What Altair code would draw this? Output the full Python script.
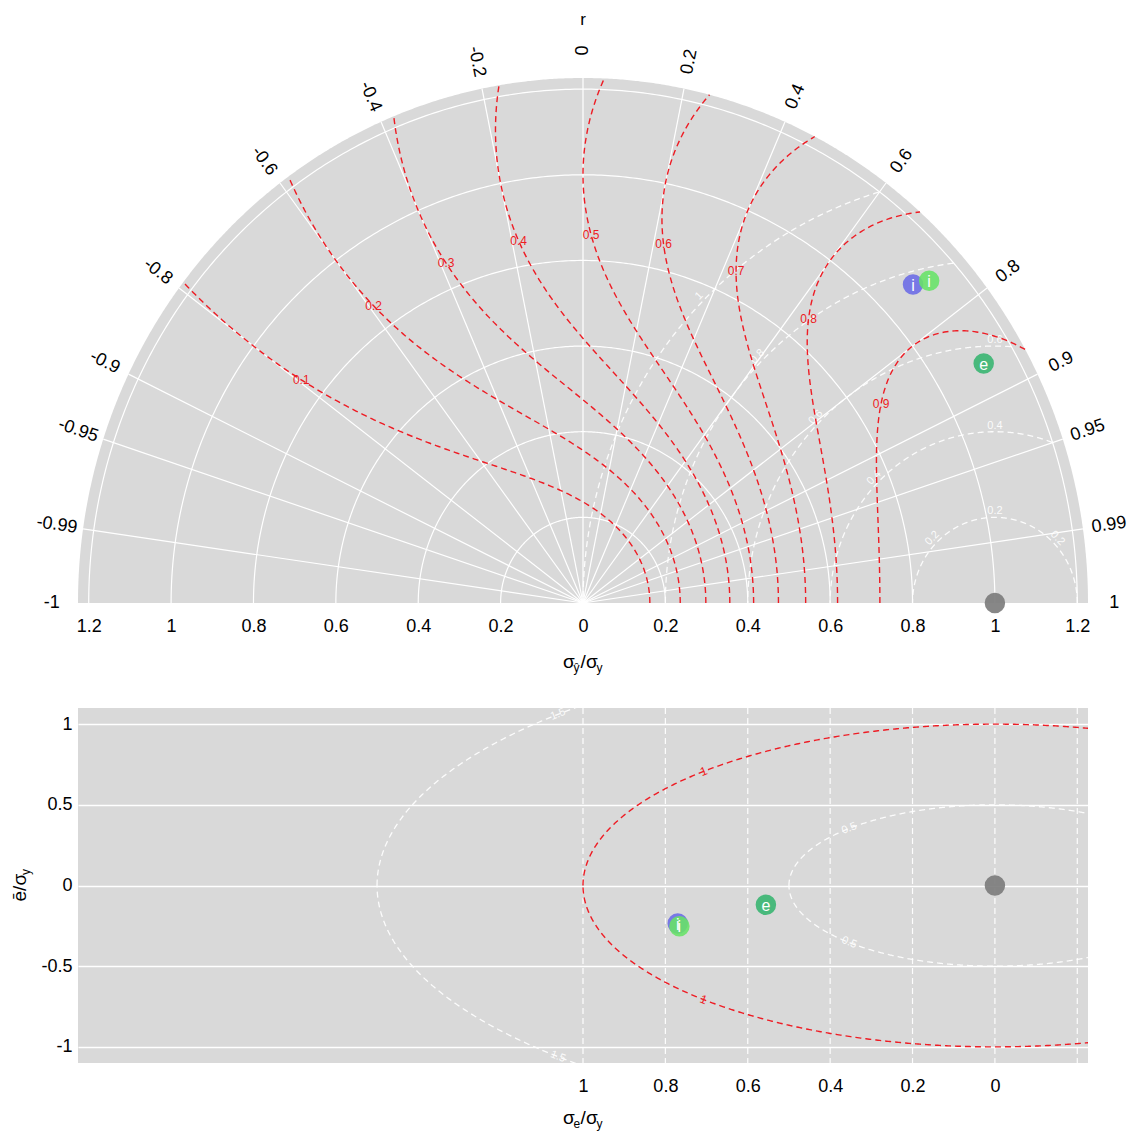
import numpy as np
import pandas as pd
import altair as alt

# ---------------- values ----------------
model_keys = ["i_a", "i_b", "e"]
model_text = ["i", "i", "e"]
sd_ratio = [1.093, 1.128, 1.122]          # sigma_yhat / sigma_y
corr_r = [0.733, 0.745, 0.867]            # correlation r
sigma_e_ratio = [0.770, 0.766, 0.556]     # sigma_e / sigma_y  (lower panel)
bias_ratio = [-0.236, -0.252, -0.120]     # mean error / sigma_y (lower panel)

ref_sd = [1.0]
ref_corr = [1.0]
ref_sigma_e = [0.0]
ref_bias = [0.0]

corr_ticks = [-1, -0.99, -0.95, -0.9, -0.8, -0.6, -0.4, -0.2, 0,
              0.2, 0.4, 0.6, 0.8, 0.9, 0.95, 0.99, 1]
corr_tick_text = ["-1", "-0.99", "-0.95", "-0.9", "-0.8", "-0.6", "-0.4", "-0.2", "0",
                  "0.2", "0.4", "0.6", "0.8", "0.9", "0.95", "0.99", "1"]
sd_arcs = [0.2, 0.4, 0.6, 0.8, 1.0, 1.2]
crmsd_levels = [0.2, 0.4, 0.6, 0.8, 1.0]
crmsd_text = ["0.2", "0.4", "0.6", "0.8", "1"]
skill_levels = [0.1, 0.2, 0.3, 0.4, 0.5, 0.6, 0.7, 0.8, 0.9]
skill_text = ["0.1", "0.2", "0.3", "0.4", "0.5", "0.6", "0.7", "0.8", "0.9"]
rmse_levels = [0.5, 1.0, 1.5]
rmse_text = ["0.5", "1", "1.5"]
rmse_is_red = [False, True, False]
top_x_ticks = [-1.2, -1, -0.8, -0.6, -0.4, -0.2, 0, 0.2, 0.4, 0.6, 0.8, 1, 1.2]
bot_x_ticks = [0, 0.2, 0.4, 0.6, 0.8, 1]
bot_x_grid = [-0.2, 0, 0.2, 0.4, 0.6, 0.8, 1]
bot_y_ticks = [-1, -0.5, 0, 0.5, 1]

# ---------------- styling / layout ----------------
FONT = "Liberation Sans"
GREY = "#d9d9d9"
RED = "#ee1c24"
palette_domain = ["ref"] + model_keys
palette_range = ["#7a7a7a", "#6a6ae6", "#66e266", "#34b46e"]
LAB = 18

R_OUT = 1.226
W, H_TOP, H_BOT = 1010, 525, 355
XPX = W / (2 * R_OUT)
YPX = H_TOP / R_OUT
YB_LIM = 1.1
YBPX = H_BOT / (2 * YB_LIM)


def thin(xs, ys, sx, sy, step=2.0):
    px, py = xs * sx, ys * sy
    d = np.r_[0, np.cumsum(np.hypot(np.diff(px), np.diff(py)))]
    idx = np.unique(np.searchsorted(d, np.arange(0, d[-1], step)))
    idx = np.unique(np.r_[idx, len(xs) - 1])
    return xs[idx], ys[idx]


# ---------------- top panel frames ----------------
t = np.linspace(0, np.pi, 721)
disc_df = pd.DataFrame({"x": R_OUT * np.cos(t), "y": R_OUT * np.sin(t)})

arc_rows = []
for a in sd_arcs:
    for k, tt in enumerate(t[::2]):
        arc_rows.append({"rad": a, "k": k, "x": a * np.cos(tt), "y": a * np.sin(tt)})
arc_df = pd.DataFrame(arc_rows)

ray_rows = []
for c in corr_ticks:
    if abs(c) < 1:
        th = np.arccos(c)
        ray_rows.append({"x0": 0.0, "y0": 0.0, "x1": R_OUT * np.cos(th), "y1": R_OUT * np.sin(th)})
ray_df = pd.DataFrame(ray_rows)

crm_rows, crm_lab = [], []
phi = np.linspace(0, np.pi, 1441)
for lev, txt in zip(crmsd_levels, crmsd_text):
    x = 1 + lev * np.cos(phi)
    y = lev * np.sin(phi)
    keep = np.hypot(x, y) <= 1.2
    for k, (xx, yy) in enumerate(zip(x[keep], y[keep])):
        crm_rows.append({"lev": lev, "k": k, "x": xx, "y": yy})
    for p in [45, 90, 135]:
        pr = np.radians(p)
        lx, ly = 1 + lev * np.cos(pr), lev * np.sin(pr)
        if np.hypot(lx, ly) <= 1.19:
            tx, ty = lev * np.sin(pr) * XPX, lev * np.cos(pr) * YPX  # reading direction
            ang = np.degrees(np.arctan2(ty, tx)) % 360
            crm_lab.append({"x": lx, "y": ly, "t": txt, "ang": ang})
crm_df = pd.DataFrame(crm_rows)
crm_lab_df = pd.DataFrame(crm_lab)

sk_rows, sk_lab = [], []
for lev, txt in zip(skill_levels, skill_text):
    kk = 2 / np.sqrt(lev)
    s0 = (kk - np.sqrt(kk * kk - 4)) / 2
    s = np.linspace(s0, R_OUT, 40000)
    r = lev * (s + 1 / s) ** 2 / 2 - 1
    r = np.clip(r, -1, 1)
    x = s * r
    y = s * np.sqrt(1 - r * r)
    keep = np.hypot(x, y) <= R_OUT
    x, y = thin(x[keep], y[keep], XPX, YPX)
    for k, (xx, yy) in enumerate(zip(x, y)):
        sk_rows.append({"lev": lev, "k": k, "x": xx, "y": yy})
    rho = 0.86
    rl = lev * (rho + 1 / rho) ** 2 / 2 - 1
    sk_lab.append({"x": rho * rl, "y": rho * np.sqrt(1 - rl * rl), "t": txt})
sk_df = pd.DataFrame(sk_rows)
sk_lab_df = pd.DataFrame(sk_lab)

R_LAB = 1.29
corr_lab = []
for c, txt in zip(corr_ticks, corr_tick_text):
    th = np.arccos(c)
    ox, oy = np.cos(th) * XPX, -np.sin(th) * YPX
    ang = np.degrees(np.arctan2(oy, ox))
    if np.cos(th) < -1e-9:
        ang += 180
    corr_lab.append({"x": R_LAB * np.cos(th), "y": R_LAB * np.sin(th), "t": txt, "ang": ang % 360})
corr_lab_df = pd.DataFrame(corr_lab)

pts_top = pd.DataFrame({
    "key": model_keys, "t": model_text,
    "x": [s * c for s, c in zip(sd_ratio, corr_r)],
    "y": [s * np.sqrt(1 - c * c) for s, c in zip(sd_ratio, corr_r)],
})
ref_top = pd.DataFrame({"key": ["ref"],
                        "x": [s * c for s, c in zip(ref_sd, ref_corr)],
                        "y": [s * np.sqrt(1 - c * c) for s, c in zip(ref_sd, ref_corr)]})

# ---------------- lower panel frames ----------------
ps = np.linspace(0, 2 * np.pi, 1441)
rm_rows, rm_lab = [], []
for lev, txt, red in zip(rmse_levels, rmse_text, rmse_is_red):
    for k, p in enumerate(ps):
        rm_rows.append({"lev": txt, "red": red, "k": k, "x": lev * np.cos(p), "y": lev * np.sin(p)})
    for p in [45, -45]:
        pr = np.radians(p)
        tx, ty = np.sin(pr) * XPX, -np.cos(pr) * YBPX
        if tx < 0:
            tx, ty = -tx, -ty
        rm_lab.append({"lev": txt, "red": red, "x": lev * np.cos(pr), "y": lev * np.sin(pr), "t": txt,
                       "ang": np.degrees(np.arctan2(ty, tx)) % 360})
rm_df = pd.DataFrame(rm_rows)
rm_lab_df = pd.DataFrame(rm_lab)
rm_red_df = rm_df[rm_df["red"]].drop(columns="red")
rm_white_df = rm_df[~rm_df["red"]].drop(columns="red")
rm_lab_red_df = rm_lab_df[rm_lab_df["red"]].drop(columns="red")
rm_lab_white_df = rm_lab_df[~rm_lab_df["red"]].drop(columns="red")

pts_bot = pd.DataFrame({"key": model_keys, "t": model_text, "x": sigma_e_ratio, "y": bias_ratio})
ref_bot = pd.DataFrame({"key": ["ref"], "x": ref_sigma_e, "y": ref_bias})
grid_bot = pd.DataFrame({"g": bot_x_grid})

one = pd.DataFrame({"a": [0]})


# ---------------- encodings ----------------
def XT(field="x"):
    return alt.X(f"{field}:Q", title=None,
                 scale=alt.Scale(domain=[-R_OUT, R_OUT], nice=False, zero=False),
                 axis=alt.Axis(values=top_x_ticks, labelExpr="'' + abs(datum.value)",
                               grid=False, ticks=False, domain=False, labelFontSize=LAB,
                               labelFont=FONT, labelPadding=14, labelFlush=False,
                               labelColor="black"))


def YT(field="y"):
    return alt.Y(f"{field}:Q", title=None,
                 scale=alt.Scale(domain=[0, R_OUT], nice=False, zero=False), axis=None)


def XB(field="x"):
    return alt.X(f"{field}:Q", title=None,
                 scale=alt.Scale(domain=[1 - R_OUT, 1 + R_OUT], reverse=True, nice=False, zero=False),
                 axis=alt.Axis(values=bot_x_ticks, labelExpr="'' + datum.value",
                               grid=False, ticks=False, domain=False, labelFontSize=LAB,
                               labelFont=FONT, labelPadding=14, labelFlush=False,
                               labelColor="black"))


def YBt(field="y"):
    return alt.Y(f"{field}:Q", title=None,
                 scale=alt.Scale(domain=[-YB_LIM, YB_LIM], nice=False, zero=False),
                 axis=alt.Axis(values=bot_y_ticks, labelExpr="'' + datum.value",
                               grid=True, gridColor="white", gridWidth=1.4, gridOpacity=1,
                               ticks=False, domain=False, labelFontSize=LAB, labelFont=FONT,
                               labelPadding=6, labelFlush=False, labelColor="black"))


def piece(txt, x0, y0, dx, dy, size, angle=0):
    return alt.Chart(one).mark_text(
        font=FONT, fontSize=size, align="left", baseline="alphabetic",
        dx=dx, dy=dy, angle=angle, color="black"
    ).encode(x=alt.value(x0), y=alt.value(y0), text=alt.value(txt))


color_enc = alt.Color("key:N", scale=alt.Scale(domain=palette_domain, range=palette_range), legend=None)

# ---------------- top panel ----------------
disc_c = alt.Chart(disc_df).mark_area(color=GREY, orient="vertical").encode(x=XT(), y=YT())
arcs_c = alt.Chart(arc_df).mark_line(color="white", strokeWidth=1.2).encode(
    x=XT(), y=YT(), detail="rad:N", order="k:Q")
rays_c = alt.Chart(ray_df).mark_rule(color="white", strokeWidth=1.2).encode(
    x=XT("x0"), y=YT("y0"), x2="x1:Q", y2="y1:Q")
crm_c = alt.Chart(crm_df).mark_line(color="white", strokeDash=[6, 4], strokeWidth=1.3, opacity=0.9).encode(
    x=XT(), y=YT(), detail="lev:N", order="k:Q")
crm_lab_c = alt.Chart(crm_lab_df).mark_text(
    color="white", fontSize=11, font=FONT, baseline="bottom", dy=-1, opacity=0.9).encode(
    x=XT(), y=YT(), text="t:N", angle=alt.Angle("ang:Q", scale=None))
sk_c = alt.Chart(sk_df).mark_line(color=RED, strokeDash=[6, 4], strokeWidth=1.4).encode(
    x=XT(), y=YT(), detail="lev:N", order="k:Q")
sk_lab_c = alt.Chart(sk_lab_df).mark_text(color=RED, fontSize=12, font=FONT, baseline="middle").encode(
    x=XT(), y=YT(), text="t:N")
ref_top_c = alt.Chart(ref_top).mark_circle(size=420, opacity=0.9).encode(x=XT(), y=YT(), color=color_enc)
pts_top_c = alt.Chart(pts_top).mark_circle(size=420, opacity=0.88).encode(x=XT(), y=YT(), color=color_enc)
let_top_c = alt.Chart(pts_top).mark_text(color="white", fontSize=16, font=FONT, baseline="middle", dy=1).encode(
    x=XT(), y=YT(), text="t:N")
corr_c = alt.Chart(corr_lab_df).mark_text(fontSize=LAB, font=FONT, baseline="middle", align="center",
                                          color="black").encode(
    x=XT(), y=YT(), text="t:N", angle=alt.Angle("ang:Q", scale=None))
r_title = alt.Chart(one).mark_text(fontSize=17, font=FONT, baseline="middle", color="black").encode(
    x=alt.value(W / 2), y=alt.value(-58), text=alt.value("r"))

TX, TY = W / 2, H_TOP + 65
top_title = [
    piece("σ", TX, TY, -20, 0, 19),
    piece("ŷ", TX, TY, -9.5, 4, 12),
    piece("/", TX, TY, -2.5, 0, 19),
    piece("σ", TX, TY, 3, 0, 19),
    piece("y", TX, TY, 13.5, 4, 12),
]

top = alt.layer(disc_c, arcs_c, rays_c, crm_c, crm_lab_c, sk_c, sk_lab_c,
                ref_top_c, pts_top_c, let_top_c, corr_c, r_title, *top_title
                ).properties(width=W, height=H_TOP)

# ---------------- lower panel ----------------
vgrid_c = alt.Chart(grid_bot).mark_rule(color="white", strokeDash=[6, 4], strokeWidth=1.2, opacity=0.95).encode(
    x=XB("g"))
rm_white_c = alt.Chart(rm_white_df).mark_line(color="white", strokeDash=[6, 4], strokeWidth=1.3,
                                              opacity=0.9, clip=True).encode(
    x=XB(), y=YBt(), detail="lev:N", order="k:Q")
rm_red_c = alt.Chart(rm_red_df).mark_line(color=RED, strokeDash=[6, 4], strokeWidth=1.4, clip=True).encode(
    x=XB(), y=YBt(), detail="lev:N", order="k:Q")
rm_lab_white_c = alt.Chart(rm_lab_white_df).mark_text(fontSize=11, font=FONT, baseline="middle",
                                                      color="white", opacity=0.9).encode(
    x=XB(), y=YBt(), text="t:N", angle=alt.Angle("ang:Q", scale=None))
rm_lab_red_c = alt.Chart(rm_lab_red_df).mark_text(fontSize=12, font=FONT, baseline="middle", color=RED).encode(
    x=XB(), y=YBt(), text="t:N", angle=alt.Angle("ang:Q", scale=None))
ref_bot_c = alt.Chart(ref_bot).mark_circle(size=420, opacity=0.9).encode(x=XB(), y=YBt(), color=color_enc)
pts_bot_c = alt.Chart(pts_bot).mark_circle(size=420, opacity=0.88).encode(x=XB(), y=YBt(), color=color_enc)
let_bot_c = alt.Chart(pts_bot).mark_text(color="white", fontSize=16, font=FONT, baseline="middle", dy=1).encode(
    x=XB(), y=YBt(), text="t:N")

BX, BY = W / 2, H_BOT + 61
bot_xtitle = [
    piece("σ", BX, BY, -20, 0, 19),
    piece("e", BX, BY, -9.5, 4, 12),
    piece("/", BX, BY, -2.5, 0, 19),
    piece("σ", BX, BY, 3, 0, 19),
    piece("y", BX, BY, 13.5, 4, 12),
]
LX, LY = -52, H_BOT / 2
bot_ytitle = [
    piece("ē", LX, LY, -16, 0, 19, 270),
    piece("/", LX, LY, -5.5, 0, 19, 270),
    piece("σ", LX, LY, 0, 0, 19, 270),
    piece("y", LX, LY, 10.5, 4, 12, 270),
]

bottom = alt.layer(vgrid_c, rm_white_c, rm_red_c, rm_lab_white_c, rm_lab_red_c,
                   ref_bot_c, pts_bot_c, let_bot_c, *bot_xtitle, *bot_ytitle
                   ).properties(width=W, height=H_BOT,
                                view=alt.ViewBackground(fill=GREY, stroke=None))

chart = alt.vconcat(top, bottom, spacing=105, bounds="flush").properties(
    padding={"left": 3, "top": 3, "right": 2, "bottom": 2}, background="white"
).configure_view(stroke=None)

chart.save("out.html", embed_options={"renderer": "svg", "actions": False})
